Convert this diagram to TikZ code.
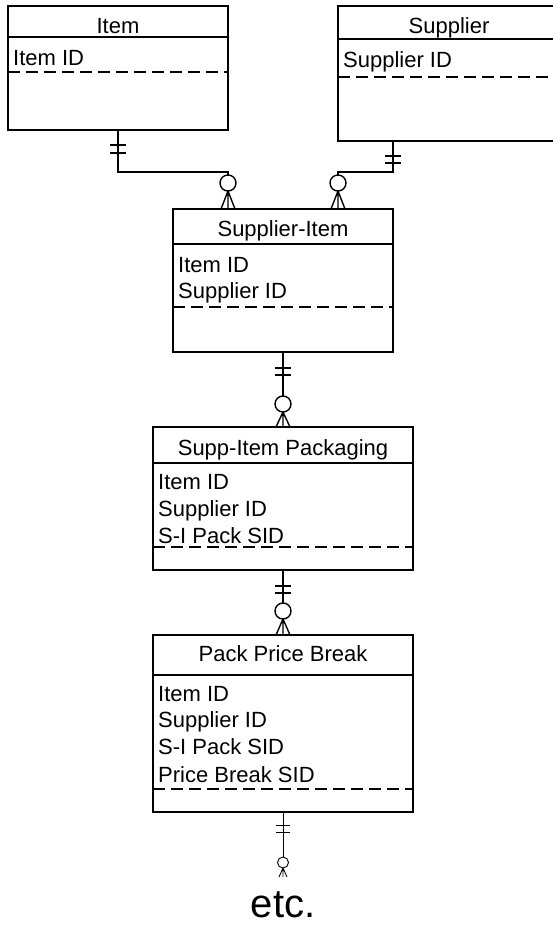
\documentclass[tikz,border=0pt]{standalone}
\usepackage{fontspec}
\setmainfont{Liberation Sans}
\usetikzlibrary{calc}
\begin{document}
\begin{tikzpicture}[x=1pt,y=-1pt,
  ent/.style={draw,line width=1.4pt,rectangle,inner sep=0pt},
  sep/.style={line width=1.4pt},
  dsep/.style={line width=1.4pt,dash pattern=on 12pt off 6pt},
  ttl/.style={anchor=base,inner sep=0pt,font=\fontsize{22}{26}\selectfont},
  att/.style={anchor=base west,inner sep=0pt,font=\fontsize{22}{26}\selectfont},
  conn/.style={line width=1.4pt},
  thinconn/.style={line width=0.9pt}]
\useasboundingbox (0,0) rectangle (553,926);
\clip (0,0) rectangle (553,926);
\fill[white] (0,0) rectangle (553,926);

% Item
\node[ent,minimum width=220pt,minimum height=124pt] (item) at (118,68) {};
\draw[sep] (8,37) -- (228,37);
\draw[dsep] (8,72) -- (228,72);
\node[ttl] (itemT) at (118,33) {Item};
\node[att] (itemA1) at (13,65) {Item ID};

% Supplier
\node[ent,minimum width=222pt,minimum height=135pt] (sup) at (449,73.5) {};
\draw[sep] (338,39) -- (560,39);
\draw[dsep] (338,77) -- (560,77);
\node[ttl] (supT) at (449,33) {Supplier};
\node[att] (supA1) at (343,67) {Supplier ID};

% Supplier-Item
\node[ent,minimum width=220pt,minimum height=143pt] (si) at (283,280.5) {};
\draw[sep] (173,244) -- (393,244);
\draw[dsep] (173,307) -- (393,307);
\node[ttl] (siT) at (283,236) {Supplier-Item};
\node[att] (siA1) at (178,272) {Item ID};
\node[att] (siA2) at (178,298) {Supplier ID};

% Supp-Item Packaging
\node[ent,minimum width=260pt,minimum height=143pt] (pk) at (283,498.5) {};
\draw[sep] (153,463) -- (413,463);
\draw[dsep] (153,547) -- (413,547);
\node[ttl] (pkT) at (283,455) {Supp-Item Packaging};
\node[att] (pkA1) at (158,489) {Item ID};
\node[att] (pkA2) at (158,516) {Supplier ID};
\node[att] (pkA3) at (158,543) {S-I Pack SID};

% Pack Price Break
\node[ent,minimum width=260pt,minimum height=177pt] (pb) at (283,723.5) {};
\draw[sep] (153,675) -- (413,675);
\draw[dsep] (153,789) -- (413,789);
\node[ttl] (pbT) at (283,661) {Pack Price Break};
\node[att] (pbA1) at (158,701) {Item ID};
\node[att] (pbA2) at (158,727) {Supplier ID};
\node[att] (pbA3) at (158,754) {S-I Pack SID};
\node[att] (pbA4) at (158,782) {Price Break SID};

% etc.
\node[anchor=base,inner sep=0pt,font=\fontsize{40}{44}\selectfont] (etc) at (283,917) {etc.};

% anchor coordinates
\coordinate (itemOut) at (118,130);
\coordinate (supOut) at (393,141);
\coordinate (siIn1) at (228,209);
\coordinate (siIn2) at (338,209);
\coordinate (siOut) at (283,352);
\coordinate (pkIn) at (283,427);
\coordinate (pkOut) at (283,570);
\coordinate (pbIn) at (283,635);
\coordinate (pbOut) at (283,812);
\coordinate (etcIn) at (283,877);

% Item -> Supplier-Item
\draw[conn] (itemOut) |- ($(siIn1)+(0,-37)$) -- ($(siIn1)+(0,-34)$);
\draw[conn] (110,145) -- (126,145) (110,153) -- (126,153);
\draw[conn] ($(siIn1)+(0,-26)$) circle[radius=8pt];
\draw[conn] ($(siIn1)+(0,-18)$) -- ($(siIn1)+(-7,0)$)
            ($(siIn1)+(0,-18)$) -- (siIn1)
            ($(siIn1)+(0,-18)$) -- ($(siIn1)+(7,0)$);

% Supplier -> Supplier-Item
\draw[conn] (supOut) |- ($(siIn2)+(0,-37)$) -- ($(siIn2)+(0,-34)$);
\draw[conn] (385,156) -- (401,156) (385,163) -- (401,163);
\draw[conn] ($(siIn2)+(0,-26)$) circle[radius=8pt];
\draw[conn] ($(siIn2)+(0,-18)$) -- ($(siIn2)+(-7,0)$)
            ($(siIn2)+(0,-18)$) -- (siIn2)
            ($(siIn2)+(0,-18)$) -- ($(siIn2)+(7,0)$);

% Supplier-Item -> Packaging
\draw[conn] (siOut) -- ($(pkIn)+(0,-31)$);
\draw[conn] (275,368) -- (291,368) (275,375) -- (291,375);
\draw[conn] ($(pkIn)+(0,-23)$) circle[radius=8pt];
\draw[conn] ($(pkIn)+(0,-15)$) -- ($(pkIn)+(-7,0)$)
            ($(pkIn)+(0,-15)$) -- (pkIn)
            ($(pkIn)+(0,-15)$) -- ($(pkIn)+(7,0)$);

% Packaging -> Pack Price Break
\draw[conn] (pkOut) -- ($(pbIn)+(0,-32)$);
\draw[conn] (275,586) -- (291,586) (275,593) -- (291,593);
\draw[conn] ($(pbIn)+(0,-24)$) circle[radius=8pt];
\draw[conn] ($(pbIn)+(0,-16)$) -- ($(pbIn)+(-7,0)$)
            ($(pbIn)+(0,-16)$) -- (pbIn)
            ($(pbIn)+(0,-16)$) -- ($(pbIn)+(7,0)$);

% Pack Price Break -> etc.
\draw[thinconn] (pbOut) -- ($(etcIn)+(0,-20)$);
\draw[thinconn] (276,825) -- (290,825) (276,832) -- (290,832);
\draw[thinconn] ($(etcIn)+(0,-14.5)$) circle[radius=5.5pt];
\draw[thinconn] ($(etcIn)+(0,-9)$) -- ($(etcIn)+(-4,0)$)
                ($(etcIn)+(0,-9)$) -- (etcIn)
                ($(etcIn)+(0,-9)$) -- ($(etcIn)+(4,0)$);
\end{tikzpicture}
\end{document}
